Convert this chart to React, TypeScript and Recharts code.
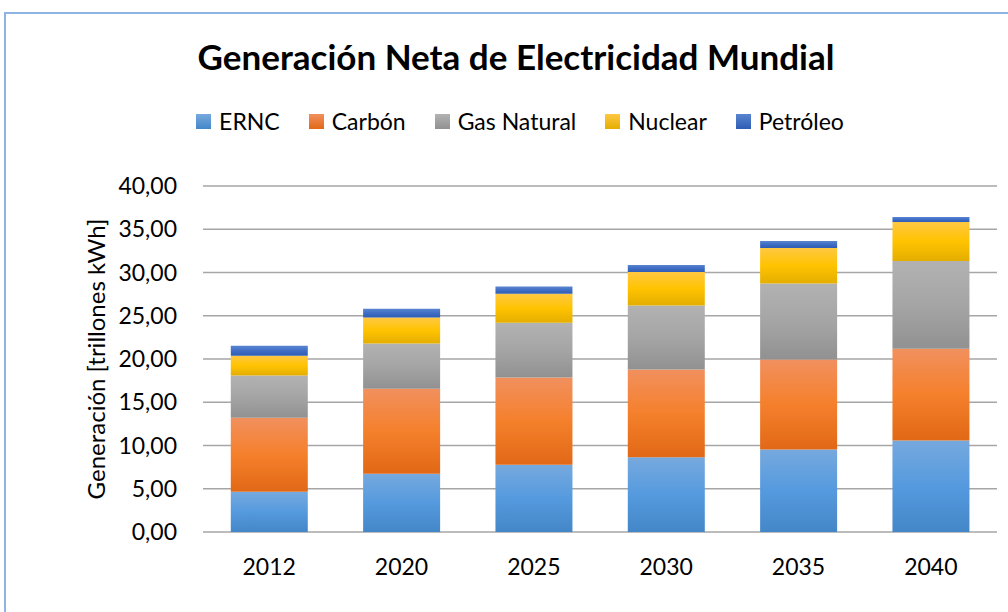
import React from 'react';
import { BarChart, Bar, XAxis, YAxis, CartesianGrid } from 'recharts';

const years = ['2012', '2020', '2025', '2030', '2035', '2040'];
const ernc = [4.66, 6.74, 7.78, 8.63, 9.55, 10.59];
const carbon = [8.55, 9.82, 10.08, 10.16, 10.39, 10.59];
const gasNatural = [4.89, 5.24, 6.32, 7.39, 8.78, 10.16];
const nuclear = [2.27, 3.0, 3.35, 3.89, 4.12, 4.5];
const petroleo = [1.15, 1.0, 0.84, 0.81, 0.81, 0.58];
const yTicks = [0, 5, 10, 15, 20, 25, 30, 35, 40];

const data = years.map((year, i) => ({
  year,
  ernc: ernc[i],
  carbon: carbon[i],
  gas: gasNatural[i],
  nuclear: nuclear[i],
  petroleo: petroleo[i],
}));

const FONT = 'Lato, "Open Sans", sans-serif';

const series = [
  { key: 'ernc', name: 'ERNC', stops: ['#76a9de', '#559ade', '#4487c8'] },
  { key: 'carbon', name: 'Carbón', stops: ['#f1905e', '#f5802c', '#e16816'] },
  { key: 'gas', name: 'Gas Natural', stops: ['#b2b2b2', '#a5a5a5', '#919191'] },
  { key: 'nuclear', name: 'Nuclear', stops: ['#ffc843', '#ffc300', '#e4ae00'] },
  { key: 'petroleo', name: 'Petróleo', stops: ['#5a85d0', '#3f6dc4', '#2f5db4'] },
];

const fmt = (v: number) => v.toFixed(2).replace('.', ',');

function LegendBox() {
  return (
    <div
      style={{
        position: 'absolute',
        left: 0,
        top: 107,
        width: 1040,
        display: 'flex',
        justifyContent: 'center',
        gap: 29,
        fontFamily: FONT,
        fontSize: 23,
        color: '#000',
      }}
    >
      {series.map((s) => (
        <div key={s.key} style={{ display: 'flex', alignItems: 'center' }}>
          <span
            style={{
              width: 15,
              height: 15,
              background: `linear-gradient(${s.stops[0]}, ${s.stops[2]})`,
              marginRight: 8,
              display: 'inline-block',
            }}
          />
          <span>{s.name}</span>
        </div>
      ))}
    </div>
  );
}

export default function App() {
  return (
    <div
      style={{
        position: 'absolute',
        left: 0,
        top: 0,
        width: 1008,
        height: 612,
        overflow: 'hidden',
        background: '#fff',
      }}
    >
      <div
        style={{
          position: 'absolute',
          left: 4,
          top: 12,
          width: 1100,
          height: 700,
          border: '2px solid #8db4e2',
        }}
      />
      <div
        style={{
          position: 'absolute',
          left: 0,
          top: 35,
          width: 1032,
          textAlign: 'center',
          fontFamily: FONT,
          fontWeight: 700,
          fontSize: 35,
          color: '#000',
        }}
      >
        Generación Neta de Electricidad Mundial
      </div>
      <LegendBox />
      <div style={{ position: 'absolute', left: 0, top: 0 }}>
        <BarChart
          width={1008}
          height={612}
          data={data}
          margin={{ top: 186, right: 11, left: 73, bottom: 40 }}
          barCategoryGap="21%"
        >
          <defs>
            {series.map((s) => (
              <linearGradient key={s.key} id={`grad-${s.key}`} x1="0" y1="0" x2="0" y2="1">
                <stop offset="0%" stopColor={s.stops[0]} />
                <stop offset="50%" stopColor={s.stops[1]} />
                <stop offset="100%" stopColor={s.stops[2]} />
              </linearGradient>
            ))}
          </defs>
          <CartesianGrid vertical={false} stroke="#a6a6a6" strokeWidth={1.5} />
          <XAxis
            dataKey="year"
            axisLine={false}
            tickLine={false}
            tickSize={0}
            tickMargin={27}
            height={40}
            tick={{ fill: '#000', fontSize: 23, fontFamily: FONT }}
          />
          <YAxis
            width={130}
            domain={[0, 40]}
            ticks={yTicks}
            axisLine={false}
            tickLine={false}
            tickSize={0}
            tickMargin={26}
            tickFormatter={fmt}
            tick={{ fill: '#000', fontSize: 23, fontFamily: FONT }}
            label={{
              content: (props: any) => {
                const vb = props.viewBox || {};
                const cx = 95;
                const cy = (vb.y ?? 186) + (vb.height ?? 346) / 2;
                return (
                  <text
                    x={cx}
                    y={cy}
                    transform={`rotate(-90, ${cx}, ${cy})`}
                    textAnchor="middle"
                    dominantBaseline="central"
                    fontFamily={FONT}
                    fontSize={24}
                    fill="#000"
                  >
                    Generación [trillones kWh]
                  </text>
                );
              },
            }}
          />
          {series.map((s) => (
            <Bar
              key={s.key}
              dataKey={s.key}
              name={s.name}
              stackId="a"
              fill={`url(#grad-${s.key})`}
              isAnimationActive={false}
            />
          ))}
        </BarChart>
      </div>
    </div>
  );
}
